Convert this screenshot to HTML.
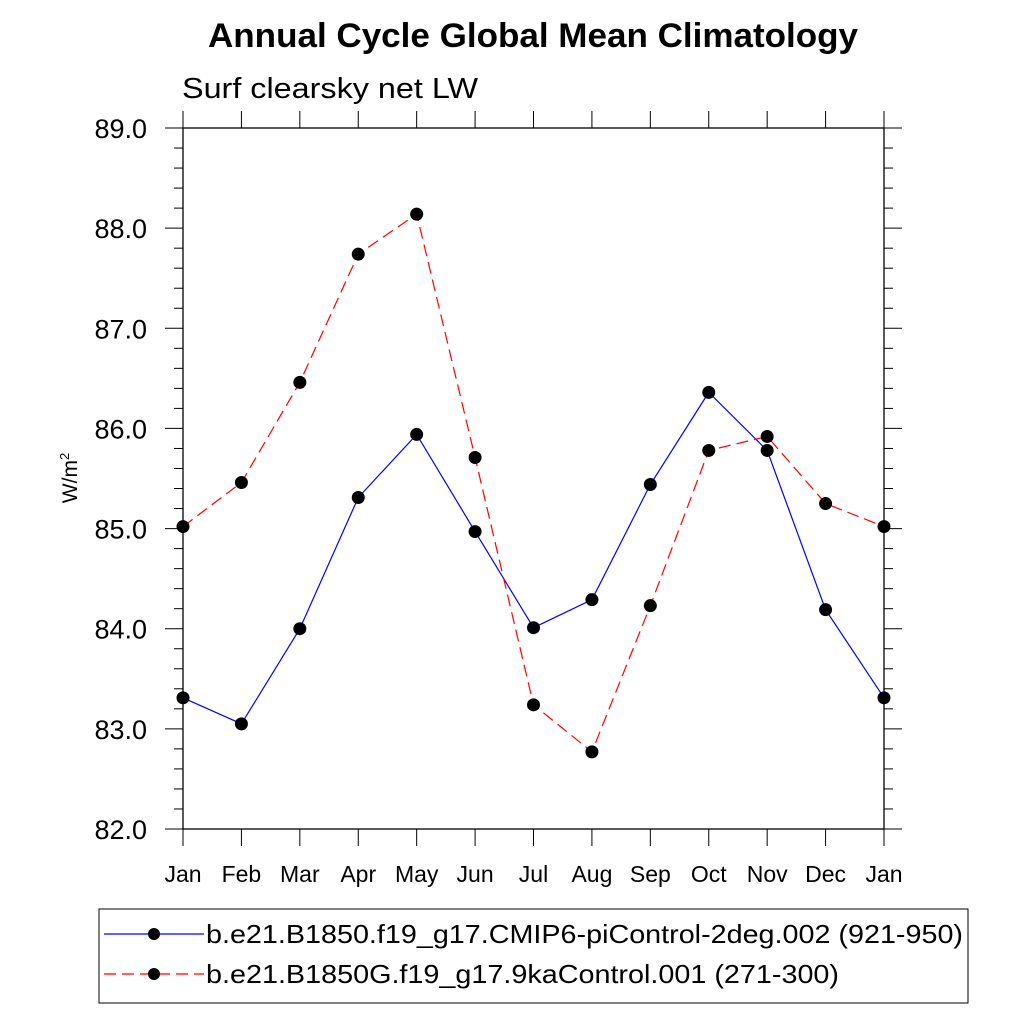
<!DOCTYPE html>
<html><head><meta charset="utf-8"><style>body{margin:0;background:#fff}svg{display:block}text{font-family:"Liberation Sans",sans-serif}</style></head>
<body>
<svg id="chart" width="1024" height="1024" viewBox="0 0 1024 1024" xmlns="http://www.w3.org/2000/svg">
<rect width="1024" height="1024" fill="#fff"/>
<text x="208" y="47" font-size="34" font-weight="bold" textLength="650" lengthAdjust="spacingAndGlyphs">Annual Cycle Global Mean Climatology</text>
<text x="182" y="98" font-size="29" textLength="296" lengthAdjust="spacingAndGlyphs">Surf clearsky net LW</text>
<text transform="translate(77,478) rotate(-90)" font-size="21" text-anchor="middle">W/m<tspan font-size="13" dy="-8">2</tspan></text>
<g id="axes"></g>
<g id="series"></g>
<g id="legend">
<rect x="99" y="909" width="869" height="94" fill="none" stroke="#000" stroke-width="1"/>
<g>
<line x1="104" y1="934" x2="204" y2="934" stroke="#0000ff" stroke-width="1.2"/>
<circle cx="154" cy="934" r="6" fill="#000"/>
<text x="206" y="943" font-size="26" textLength="757" lengthAdjust="spacingAndGlyphs">b.e21.B1850.f19_g17.CMIP6-piControl-2deg.002 (921-950)</text>
</g>
<g>
<line x1="104" y1="974" x2="204" y2="974" stroke="#ff0000" stroke-width="1.2" stroke-dasharray="12,6"/>
<circle cx="154" cy="974" r="6" fill="#000"/>
<text x="206" y="983" font-size="26" textLength="633" lengthAdjust="spacingAndGlyphs">b.e21.B1850G.f19_g17.9kaControl.001 (271-300)</text>
</g>
</g>
</svg>
<script>
const months = ["Jan","Feb","Mar","Apr","May","Jun","Jul","Aug","Sep","Oct","Nov","Dec","Jan"];
const piControl = [83.31,83.05,84.00,85.31,85.94,84.97,84.01,84.29,85.44,86.36,85.78,84.19,83.31];
const kaControl = [85.02,85.46,86.46,87.74,88.14,85.71,83.24,82.77,84.23,85.78,85.92,85.25,85.02];
const yTicks = [82,83,84,85,86,87,88,89];
const yTickLabels = ["82.0","83.0","84.0","85.0","86.0","87.0","88.0","89.0"];

const NS="http://www.w3.org/2000/svg";
const L=183,R=884,T=128,B=829,yMin=82,yMax=89;
const xs=i=>L+(R-L)*i/(months.length-1);
const ys=v=>B-(v-yMin)/(yMax-yMin)*(B-T);
function mk(tag,at,parent){const e=document.createElementNS(NS,tag);for(const k in at)e.setAttribute(k,at[k]);parent.appendChild(e);return e;}
const ax=document.getElementById('axes');
const frame=mk('rect',{x:L,y:T,width:R-L,height:B-T,fill:'none',stroke:'#000','stroke-width':1.3},ax);


months.forEach((m,i)=>{
  const x=xs(i);
  mk('line',{x1:x,y1:B,x2:x,y2:B+17,stroke:'#000','stroke-width':1},ax);
  mk('line',{x1:x,y1:T,x2:x,y2:T-17,stroke:'#000','stroke-width':1},ax);
  const t=mk('text',{x:x,y:B+53,'font-size':23,'text-anchor':'middle'},ax);
  t.textContent=m;
  
  
});
for(let v=yMin;v<=yMax+1e-6;v+=0.2){
  const y=ys(v);const major=Math.abs(v-Math.round(v))<1e-6;const len=major?18:9;
  mk('line',{x1:L-len,y1:y,x2:L,y2:y,stroke:'#000','stroke-width':1},ax);
  mk('line',{x1:R,y1:y,x2:R+len,y2:y,stroke:'#000','stroke-width':1},ax);
}
yTicks.forEach((v,i)=>{
  const t=mk('text',{x:L-36,y:ys(v)+10,'font-size':27,'text-anchor':'end'},ax);
  t.textContent=yTickLabels[i];
  
  
});
const sg=document.getElementById('series');
function series(vals,color,dash,name){
  const g=mk('g',{},sg);
  
  
  const p=mk('polyline',{points:vals.map((v,i)=>xs(i)+','+ys(v)).join(' '),fill:'none',stroke:color,'stroke-width':1.2},g);
  if(dash)p.setAttribute('stroke-dasharray',dash);
  vals.forEach((v,i)=>{
    const c=mk('circle',{cx:xs(i),cy:ys(v),r:6.5,fill:'#000'},g);
    
    
  });
}
series(piControl,'#0000ff',null,'series-picontrol');
series(kaControl,'#ff0000','12,6','series-9kacontrol');
</script>
</body></html>
